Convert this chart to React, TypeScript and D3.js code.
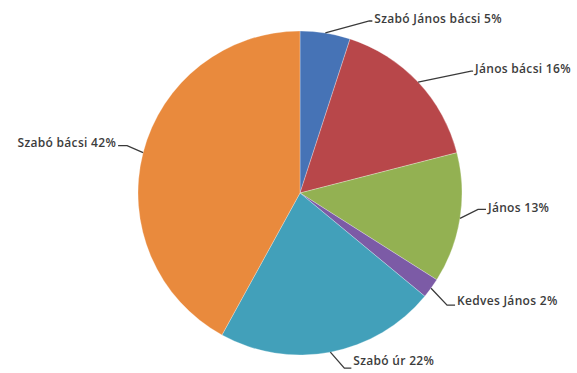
import React from "react";
import * as d3 from "d3";

const categories = ["Szabó János bácsi", "János bácsi", "János", "Kedves János", "Szabó úr", "Szabó bácsi"];
const values = [5, 16, 13, 2, 22, 42];
const labels = ["Szabó János bácsi 5%", "János bácsi 16%", "János 13%", "Kedves János 2%", "Szabó úr 22%", "Szabó bácsi 42%"];
const colors = ["#4673b6", "#b8474a", "#93b152", "#7c5ba6", "#42a0ba", "#e98a3d"];

// leader layout: elbow point offset (from arc point), horizontal tail length, text vertical shift
const leaderLayout = [
  { ex: 44, ey: -12, tail: 3, side: 1, dy: -1 },
  { ex: 53, ey: -11, tail: 2, side: 1, dy: -1 },
  { ex: 18, ey: -9, tail: 8, side: 1, dy: -1 },
  { ex: 16, ey: 17, tail: 8, side: 1, dy: -3 },
  { ex: 14, ey: 16, tail: 7, side: 1, dy: -6 },
  { ex: -16, ey: -7, tail: 9, side: -1, dy: -2 },
];

const W = 577;
const H = 373;
const cx = 300;
const cy = 193;
const R = 162;

export default function App() {
  const pie = d3.pie<number>().sort(null).value((d) => d)(values);
  const arc = d3.arc<d3.PieArcDatum<number>>().innerRadius(0).outerRadius(R);
  const edge = d3.arc<d3.PieArcDatum<number>>().innerRadius(R).outerRadius(R);

  return (
    <svg
      width={W}
      height={H}
      style={{ position: "fixed", left: 0, top: 0, background: "#fff" }}
      fontFamily="'Open Sans', sans-serif"
    >
      <g transform={`translate(${cx},${cy})`}>
        {pie.map((p, i) => (
          <path key={categories[i]} d={arc(p) || ""} fill={colors[i]} stroke="rgba(255,255,255,0.35)" strokeWidth={0.8} />
        ))}
      </g>
      {pie.map((p, i) => {
        const [ax, ay] = edge.centroid(p);
        const x0 = cx + ax;
        const y0 = cy + ay;
        const L = leaderLayout[i];
        const x1 = x0 + L.ex;
        const y1 = y0 + L.ey;
        const x2 = x1 + L.tail * L.side;
        return (
          <g key={"l" + i}>
            <polyline points={`${x0},${y0} ${x1},${y1} ${x2},${y1}`} fill="none" stroke="#3a3a3a" strokeWidth={1.3} />
            <text
              x={x2 + 2 * L.side}
              y={y1 + L.dy}
              textAnchor={L.side > 0 ? "start" : "end"}
              dominantBaseline="middle"
              fontSize={12}
              fontWeight={600}
              letterSpacing={0.3}
              fill="#3c3c3c"
            >
              {labels[i]}
            </text>
          </g>
        );
      })}
    </svg>
  );
}
